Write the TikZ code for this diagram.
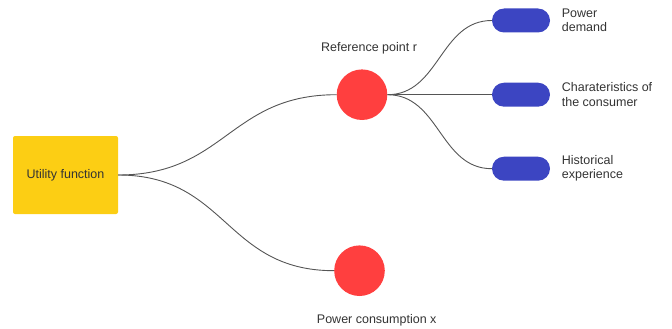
\documentclass[tikz,border=0pt]{standalone}
\usepackage{fontspec}
\setmainfont{Liberation Sans}
\definecolor{boxyellow}{HTML}{FCCE14}
\definecolor{dotred}{HTML}{FF3F3F}
\definecolor{pillblue}{HTML}{3C45C2}
\definecolor{txt}{HTML}{333333}
\definecolor{wire}{HTML}{555555}
\begin{document}
\begin{tikzpicture}[x=1pt,y=-1pt,
  lbl/.style={font=\fontsize{12.5}{14.5}\selectfont, text=txt, inner sep=0pt},
  ybox/.style={fill=boxyellow, draw=none, rounded corners=2pt, minimum width=105pt, minimum height=78pt, inner sep=0pt, font=\fontsize{12.5}{14.5}\selectfont, text=txt},
  rdot/.style={circle, fill=dotred, draw=none, minimum size=50.6pt, inner sep=0pt},
  bpill/.style={fill=pillblue, draw=none, rounded corners=12pt, minimum width=58pt, minimum height=24pt, inner sep=0pt},
  wirec/.style={draw=wire, line width=0.9pt, out=0, in=180, looseness=1.18},
  wires/.style={draw=wire, line width=0.9pt, out=0, in=180, looseness=1.04}]
\useasboundingbox (0,0) rectangle (672,329);
\node[ybox] (uf) at (65.5,175) {\raisebox{1.5pt}{Utility function}};
\node[rdot] (rp) at (362,94.7) {};
\node[rdot] (pc) at (359.5,270.7) {};
\node[bpill] (p1) at (521,20.5) {};
\node[bpill] (p2) at (521,94.7) {};
\node[bpill] (p3) at (521,168.7) {};
\node[lbl] (trp) at (369,48.3) {Reference point r};
\node[lbl] (tpc) at (376.7,320.7) {Power consumption x};
\node[lbl, anchor=west, align=left] (t1) at (561.7,20.3) {Power\\demand};
\node[lbl, anchor=west, align=left] (t2) at (561.7,94.5) {Charateristics of\\the consumer};
\node[lbl, anchor=west, align=left] (t3) at (561.7,168.5) {Historical\\experience};
\draw[wirec] (uf.east) to (rp.west);
\draw[wirec] (uf.east) to (pc.west);
\draw[wires] (rp.east) to (p1.west);
\draw[wire, line width=0.9pt] (rp.east) -- (p2.west);
\draw[wires] (rp.east) to (p3.west);
\end{tikzpicture}
\end{document}
